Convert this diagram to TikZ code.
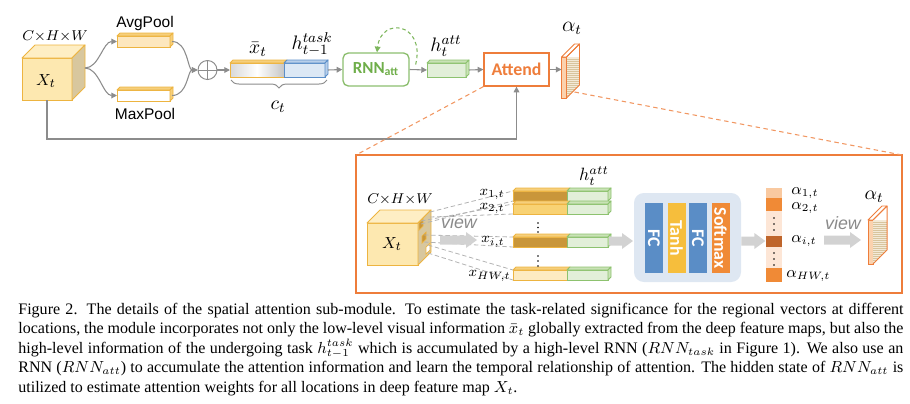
\documentclass[tikz,border=0pt]{standalone}
\usepackage{fontspec}
\setmainfont{Liberation Serif}
\newfontfamily\arialf{Liberation Sans}
\newfontfamily\calf{Carlito}
\usetikzlibrary{calc,decorations.pathreplacing,arrows.meta}

\definecolor{gold}{HTML}{EDB440}
\definecolor{cubefront}{HTML}{FDE8B0}
\definecolor{cubetop}{HTML}{FEEEC4}
\definecolor{cubeside}{HTML}{D8C79E}
\definecolor{grayline}{HTML}{8C8C8C}
\definecolor{rnngreen}{HTML}{6FAE4A}
\definecolor{greenfill}{HTML}{E2EFD9}
\definecolor{greentop}{HTML}{C9E2B6}
\definecolor{greenedge}{HTML}{8DC26F}
\definecolor{blueedge}{HTML}{5B8EC8}
\definecolor{bluefill}{HTML}{DCE8F5}
\definecolor{bluetop}{HTML}{B8CFEA}
\definecolor{attorange}{HTML}{EE7D3B}
\definecolor{avgfill}{HTML}{FDE7BE}
\definecolor{avgtop}{HTML}{F6CF7C}
\definecolor{darkgold}{HTML}{C9963A}
\definecolor{midgold}{HTML}{F8D274}
\definecolor{lightgold}{HTML}{FDEBC2}
\definecolor{panelblue}{HTML}{DEE7F2}
\definecolor{fcblue}{HTML}{5A8DC6}
\definecolor{tanhyellow}{HTML}{F6BE3C}
\definecolor{smorange}{HTML}{F08A36}
\definecolor{alight}{HTML}{F9C9A0}
\definecolor{apale}{HTML}{FDE6D6}
\definecolor{abrown}{HTML}{BF652B}
\definecolor{blockgray}{HTML}{D2D2D2}
\definecolor{viewgray}{HTML}{8A8A8A}
\definecolor{stripebg}{HTML}{F3EAD8}
\definecolor{stripeln}{HTML}{D8C59E}
\definecolor{slabfront}{HTML}{FBD2AE}

\newcommand\pu{0.5613pt}

% 3D faces of a flat box node: node, depth, top fill, side fill, edge colour
\newcommand\depthfaces[5]{%
  \filldraw[fill=#3, draw=#5, line width=0.55pt, line join=round]
    (#1.north west) -- ++(#2,-#2) -- ($(#1.north east)+(#2,-#2)$) -- (#1.north east) -- cycle;
  \filldraw[fill=#4, draw=#5, line width=0.55pt, line join=round]
    (#1.north east) -- ++(#2,-#2) -- ($(#1.south east)+(#2,-#2)$) -- (#1.south east) -- cycle;}

% thin attention slab: node, depth
\newcommand\slabfaces[2]{%
  \filldraw[fill=white, draw=attorange, line width=0.55pt, line join=round]
    (#1.north west) -- ++(#2,-#2) -- ($(#1.north east)+(#2,-#2)$) -- (#1.north east) -- cycle;
  \begin{scope}
    \clip (#1.north east) -- ++(#2,-#2) -- ($(#1.south east)+(#2,-#2)$) -- (#1.south east) -- cycle;
    \fill[stripebg] (#1.north east) rectangle ($(#1.south east)+(#2,0)$);
    \foreach \k in {1,...,22} \draw[stripeln, line width=0.3pt] ($(#1.north east)+(0,2*\k)$) -- ++(#2,0);
  \end{scope}
  \draw[attorange, line width=0.55pt, line join=round]
    (#1.north east) -- ++(#2,-#2) -- ($(#1.south east)+(#2,-#2)$) -- (#1.south east);}

% block arrow: start coordinate, length
\newcommand\blockarr[2]{%
  \fill[blockgray] (#1) ++(0,-4.5) -- ++(#2-11,0) -- ++(0,-3.5) -- ++(11,8) -- ++(-11,8)
    -- ++(0,-3.5) -- ++(-#2+11,0) -- cycle;}

\begin{document}
\begin{tikzpicture}[x=0.5613pt,y=-0.5613pt,
  conn/.style={draw=grayline, line width=0.6pt, -{Triangle[length=3.2pt,width=3.2pt]}},
  face/.style={draw=gold, line width=0.55pt, inner sep=0pt, outer sep=0pt},
  sz/.style 2 args={minimum width=#1*\pu, minimum height=#2*\pu},
  mlbl/.style={inner sep=0pt, font=\fontsize{11}{13}\selectfont},
  slbl/.style={inner sep=0pt, font=\fontsize{8.5}{10}\selectfont},
  sanslbl/.style={inner sep=0pt, font=\arialf\fontsize{8.7}{10}\selectfont},
  viewlbl/.style={inner sep=0pt, text=viewgray, font=\arialf\itshape\fontsize{10}{12}\selectfont},
  zoomline/.style={draw=attorange!80, line width=0.6pt, dash pattern=on 2.5pt off 2pt},
  rowline/.style={draw=gray!60, line width=0.45pt, dash pattern=on 2.5pt off 1.5pt},
  layer/.style={inner sep=0pt, outer sep=0pt, rotate=-90, minimum width=70*\pu, minimum height=18*\pu,
    text=white, font=\calf\bfseries\fontsize{10}{12}\selectfont},
  aseg/.style={inner sep=0pt, outer sep=0pt, minimum width=16*\pu},
]
\useasboundingbox (0,0) rectangle (910,403);

%================ top row ================
% cube X_t
\node[face, fill=cubefront, sz={50}{42}] (cubeA) at (47,79) {};
\depthfaces{cubeA}{13}{cubetop}{cubeside}{gold}
\node[mlbl, font=\fontsize{9.5}{11}\selectfont] (lcubeA) at (46,81) {$X_t$};
\node[slbl] (dimA) at (55,36) {$C{\times}H{\times}W$};
\coordinate (split) at ($(cubeA.east)+(13,-11)$);

% pooling bars
\node[face, fill=avgfill, sz={53}{11}] (avg) at (143.5,41.5) {};
\depthfaces{avg}{3}{avgtop}{avgtop}{gold}
\node[face, fill=white, sz={53}{11}] (max) at (143.5,95.5) {};
\depthfaces{max}{3}{avgtop}{avgtop}{gold}
\node[sanslbl] (lavg) at (145,23) {AvgPool};
\node[sanslbl] (lmax) at (145,114) {MaxPool};

% oplus
\node[circle, draw=grayline, line width=0.55pt, minimum size=19*\pu, inner sep=0pt] (oplus) at (207.5,70) {};
\draw[grayline, line width=0.5pt] (oplus.north) -- (oplus.south) (oplus.west) -- (oplus.east);

% x bar and h task
\node[face, left color=gray!30, right color=gray!45, middle color=white, sz={54}{14}] (xbar) at (257,70) {};
\filldraw[fill=avgtop, draw=gold, line width=0.55pt, line join=round]
  (xbar.north west) -- ++(3,-3) -- ($(xbar.north east)+(3,-3)$) -- (xbar.north east) -- cycle;
\node[face, draw=blueedge, fill=bluefill, sz={41}{14}] (htask) at (304.5,70) {};
\depthfaces{htask}{3}{bluetop}{bluetop}{blueedge}
\node[mlbl] (lxbar) at (258,49) {$\bar{x}_t$};
\node[mlbl] (lhtask) at (312,44) {$h_{t-1}^{task}$};
\draw[grayline, line width=0.55pt, decorate, decoration={brace, mirror, amplitude=4.5pt}]
  ($(xbar.south west)+(1,3)$) -- ($(htask.south east)+(2,3)$);
\node[mlbl] (lct) at (278,107) {$c_t$};

% RNN_att
\node[draw=rnngreen!80, line width=0.75pt, rounded corners=3pt, sz={66}{33}, inner sep=0pt,
  text=rnngreen, font=\calf\bfseries\fontsize{9.5}{11}\selectfont] (rnn) at (376,69.5)
  {RNN\textsubscript{att}};

% h_t^att
\node[face, draw=greenedge, fill=greenfill, sz={39}{14}] (hatt) at (446.5,70) {};
\depthfaces{hatt}{3}{greentop}{greentop}{greenedge}
\node[mlbl] (lhatt) at (446,46) {$h_t^{att}$};

% Attend
\node[draw=attorange, line width=0.7pt, sz={65}{33}, inner sep=0pt, text=attorange,
  font=\calf\bfseries\fontsize{10}{12}\selectfont] (attend) at (516.5,69.5) {Attend};

% alpha slab (top)
\node[inner sep=0pt, outer sep=0pt, fill=slabfront, draw=attorange, line width=0.55pt, sz={5}{41}] (alslab) at (564,77.5) {};
\slabfaces{alslab}{13}
\node[mlbl, font=\fontsize{12}{14}\selectfont] (lalA) at (572,28) {$\alpha_t$};

% connectors (top)
\draw[conn] (split) .. controls +(14,0) and +(-14,0) .. (avg.west);
\draw[conn] (split) .. controls +(14,0) and +(-14,0) .. (max.west);
\draw[conn] ($(avg.east)+(2,0)$) .. controls +(16,0) and +(-10,0) .. (oplus.west);
\draw[conn] ($(max.east)+(2,0)$) .. controls +(16,0) and +(-10,0) .. (oplus.west);
\draw[conn] (oplus.east) -- (xbar.west);
\draw[conn] ($(htask.east)+(3,0)$) -- (rnn.west);
\draw[conn] (rnn.east) -- (hatt.west);
\draw[conn] ($(hatt.east)+(3,0)$) -- (attend.west);
\draw[conn] (attend.east) -- (attend.east -| alslab.west);
\draw[draw=rnngreen!90, line width=0.6pt, dash pattern=on 2pt off 1.6pt,
  -{Triangle[length=3.2pt,width=3.2pt]}]
  ($(rnn.east)+(6,-5)$) .. controls +(10,-42) and +(4,-36) .. ($(rnn.north)+(1,0)$);
\draw[conn] (cubeA.south) -- ++(0,39) -| (attend.south);

%================ inset ================
\node[draw=attorange, line width=0.6pt, sz={546}{138}, inner sep=0pt, outer sep=0pt] (inset) at (629,224) {};
\draw[zoomline] (attend.south west) -- (inset.north west);
\draw[zoomline] ($(alslab.south east)+(8,-6)$) -- (inset.north east);

% cube in inset
\node[face, fill=cubefront, sz={51}{42}] (cubeB) at (392.5,244) {};
\depthfaces{cubeB}{13}{cubetop}{cubeside}{gold}
\filldraw[fill=darkgold, draw=gold, line width=0.4pt] ($(cubeB.north east)+(1,0)$) -- ++(4,-4) -- ++(0,7) -- ++(-4,4) -- cycle;
\filldraw[fill=darkgold, draw=gold, line width=0.4pt] ($(cubeB.north east)+(4,13)$) -- ++(4,-4) -- ++(0,7) -- ++(-4,4) -- cycle;
\filldraw[fill=white, draw=gold, line width=0.4pt] ($(cubeB.north east)+(8,24)$) -- ++(4,-4) -- ++(0,7) -- ++(-4,4) -- cycle;
\node[mlbl, font=\fontsize{9.5}{11}\selectfont] (lcubeB) at (392,244) {$X_t$};
\node[slbl] (dimB) at (400,199) {$C{\times}H{\times}W$};

% rows of vectors
\node[face, fill=darkgold, sz={54}{10}] (r1) at (540,196) {};
\node[face, draw=greenedge, fill=greenfill, sz={41}{10}] (g1) at (587.5,196) {};
\node[face, fill=midgold, sz={54}{10}] (r2) at (540,209) {};
\node[face, draw=greenedge, fill=greenfill, sz={41}{10}] (g2) at (587.5,209) {};
\node[face, fill=darkgold, sz={54}{10}] (ri) at (540,242) {};
\node[face, draw=greenedge, fill=greenfill, sz={41}{10}] (gi) at (587.5,242) {};
\node[face, fill=lightgold, sz={54}{10}] (rh) at (540,275) {};
\node[face, draw=greenedge, fill=greenfill, sz={41}{10}] (gh) at (587.5,275) {};
\foreach \r/\g in {r1/g1, r2/g2, ri/gi, rh/gh}{
  \filldraw[fill=avgtop, draw=gold, line width=0.55pt, line join=round]
    (\r.north west) -- ++(3,-3) -- ($(\r.north east)+(3,-3)$) -- (\r.north east) -- cycle;
  \depthfaces{\g}{3}{greentop}{greentop}{greenedge}
}
\foreach \yy in {223,227.5,232,256,261,266} \fill (538,\yy) circle (0.55pt);

% dashed projection lines
\draw[rowline] ($(cubeB.north east)+(12,-11)$) -- (r1.north west);
\draw[rowline] ($(cubeB.north east)+(3,1)$) -- (r1.south west);
\draw[rowline] ($(cubeB.north east)+(3,-2)$) -- (r2.north west);
\draw[rowline] ($(cubeB.north east)+(12,-6)$) -- (r2.south west);
\draw[rowline] ($(cubeB.north east)+(6,12)$) -- (ri.north west);
\draw[rowline] ($(cubeB.north east)+(6,19)$) -- (ri.south west);
\draw[rowline] ($(cubeB.north east)+(10,22)$) -- (rh.north west);
\draw[rowline] ($(cubeB.north east)+(10,30)$) -- (rh.south west);

\node[slbl, anchor=east] (lx1) at (505,194) {$x_{1,t}$};
\node[slbl, anchor=east] (lx2) at (505,208) {$x_{2,t}$};
\node[slbl, anchor=east] (lxi) at (505,242) {$x_{i,t}$};
\node[slbl, anchor=east] (lxh) at (511,276) {$x_{HW,t}$};
\node[mlbl, font=\fontsize{10}{12}\selectfont] (lhattB) at (594,176) {$h_t^{att}$};

% view arrow 1
\coordinate (va1) at ($(cubeB.east)+(22,-4)$);
\blockarr{va1}{37}
\node[viewlbl] (lview1) at (459,222) {view};

% arrow into panel
\coordinate (va2) at ($(gi.east)+(1,-1)$);
\blockarr{va2}{24}

% panel with layers
\node[fill=panelblue, rounded corners=5.5pt, sz={107}{89}, inner sep=0pt] (panel) at (687.5,237.5) {};
\node[layer, fill=fcblue] (fc1) at (654,238) {FC};
\node[layer, fill=tanhyellow] (tanh) at (676.5,238) {Tanh};
\node[layer, fill=fcblue] (fc2) at (698,238) {FC};
\node[layer, fill=smorange] (softmax) at (720.5,238) {Softmax};

% arrow out of panel
\coordinate (va3) at ($(panel.east)+(0,3.5)$);
\blockarr{va3}{24}

% alpha column
\node[aseg, fill=alight, minimum height=10*\pu] (a1) at (774,193) {};
\node[aseg, fill=smorange, minimum height=13*\pu] (a2) at (774,204.5) {};
\node[aseg, fill=apale, minimum height=25*\pu] (a3) at (774,223.5) {};
\node[aseg, fill=abrown, minimum height=11*\pu] (a4) at (774,241.5) {};
\node[aseg, fill=apale, minimum height=21*\pu] (a5) at (774,257.5) {};
\node[aseg, fill=smorange, minimum height=14*\pu] (a6) at (774,275) {};
\foreach \yy in {218,224,230,253,259,265} \fill (774,\yy) circle (0.55pt);
\node[slbl, font=\fontsize{9}{11}\selectfont, anchor=west] (la1) at (791,193) {$\alpha_{1,t}$};
\node[slbl, font=\fontsize{9}{11}\selectfont, anchor=west] (la2) at (791,208) {$\alpha_{2,t}$};
\node[slbl, font=\fontsize{9}{11}\selectfont, anchor=west] (lai) at (791,241) {$\alpha_{i,t}$};
\node[slbl, font=\fontsize{9}{11}\selectfont, anchor=west] (lah) at (786,276) {$\alpha_{HW,t}$};

% view arrow 2
\coordinate (va4) at ($(a4.east)+(42,-1.5)$);
\blockarr{va4}{37}
\node[viewlbl] (lview2) at (843,223) {view};

% alpha slab (inset)
\node[inner sep=0pt, outer sep=0pt, fill=slabfront, draw=attorange, line width=0.55pt, sz={5}{44}] (alslabB) at (870.5,242) {};
\slabfaces{alslabB}{14}
\node[mlbl] (lalB) at (874,197) {$\alpha_t$};

%================ caption ================
\node[anchor=base west, inner sep=0pt, text width=496.8pt, align=justify,
  font=\fontsize{9}{11}\selectfont] (caption) at (18,314) {%
Figure 2. The details of the spatial attention sub-module.  To estimate the task-related significance for the regional vectors at different\linebreak
locations, the module incorporates not only the low-level visual information $\bar{x}_t$ globally extracted from the deep feature maps, but also the\linebreak
high-level information of the undergoing task $h_{t-1}^{task}$ which is accumulated by a high-level RNN ($RNN_{task}$ in Figure 1).  We also use an\linebreak
RNN ($RNN_{att}$) to accumulate the attention information and learn the temporal relationship of attention. The hidden state of $RNN_{att}$ is\linebreak
utilized to estimate attention weights for all locations in deep feature map $X_t$.};
\end{tikzpicture}
\end{document}
